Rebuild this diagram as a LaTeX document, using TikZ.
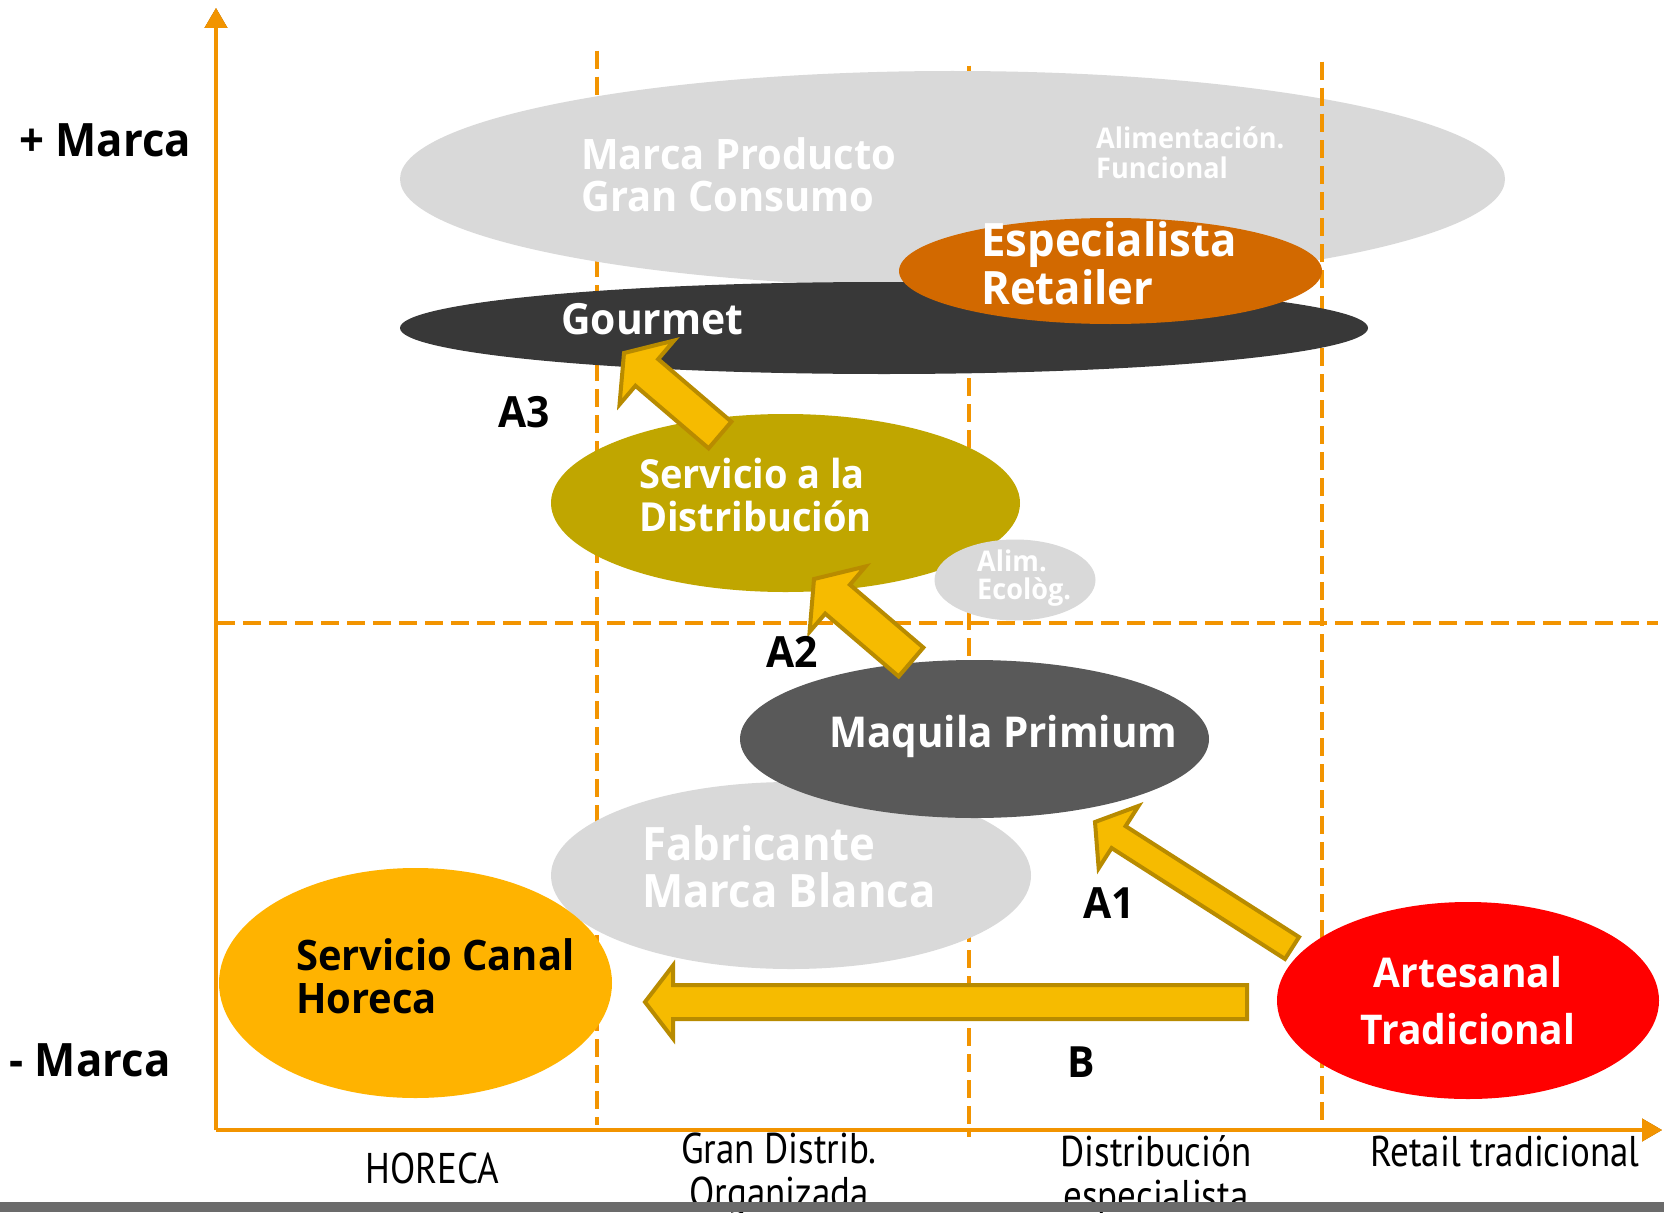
\documentclass[tikz,border=0pt]{standalone}
\usepackage{fontspec}
\setmainfont{Open Sans}[FakeStretch=0.95]
\newfontfamily\axfont{PT Sans}[FakeStretch=0.86]
\usetikzlibrary{shapes.geometric,calc,arrows.meta}

\definecolor{lgray}{HTML}{D9D9D9}
\definecolor{espor}{HTML}{D26900}
\definecolor{gourm}{HTML}{383838}
\definecolor{olive}{HTML}{C0A600}
\definecolor{maqg}{HTML}{595959}
\definecolor{horor}{HTML}{FFB300}
\definecolor{artred}{HTML}{FF0000}
\definecolor{arrfill}{HTML}{F6BB00}
\definecolor{arredge}{HTML}{B88B00}
\definecolor{axor}{HTML}{F29400}
\definecolor{axlight}{HTML}{F9C27F}
\definecolor{axbrown}{HTML}{965700}
\definecolor{barg}{HTML}{6B6B6B}

\newcommand\fsz[2]{\fontsize{#1}{#2}\selectfont}

% block arrow: tail, tip, shaft half width, head half width, head length
\newcommand\blockarrow[5]{%
  \coordinate (ba-h) at ($(#2)!#5!(#1)$);
  \draw[barrow] (#2) -- ($(ba-h)!#4!90:(#2)$) -- ($(ba-h)!#3!90:(#2)$)
    -- ($(#1)!#3!90:(#2)$) -- ($(#1)!#3!-90:(#2)$)
    -- ($(ba-h)!#3!-90:(#2)$) -- ($(ba-h)!#4!-90:(#2)$) -- cycle;}

% three-tone dashed guide line
\newcommand\guideline[2]{%
  \draw[guide, axlight, shift={(-2.5,-2.5)}] (#1) -- (#2);
  \draw[guide, axbrown, shift={(3,3)}] (#1) -- (#2);
  \draw[guide, axor] (#1) -- (#2);}

\tikzset{
  blob/.style={ellipse, draw=none, inner sep=0pt, minimum width=#1},
  barrow/.style={fill=arrfill, draw=arredge, line width=4pt, line join=miter},
  guide/.style={line width=4.5pt, dash pattern=on 18pt off 8pt},
  axline/.style={line width=4pt, -{Triangle[length=20pt,width=22pt]}},
  wtxt/.style={font=\bfseries, text=white, inner sep=0pt, align=left, anchor=base west},
  ktxt/.style={font=\bfseries, text=black, inner sep=0pt, anchor=base},
  axtxt/.style={font=\axfont\fsz{43}{44}, text=black, inner sep=0pt, align=center, anchor=base},
}

\begin{document}
\begin{tikzpicture}[x=1pt,y=-1pt]
\useasboundingbox (0,0) rectangle (1664,1212);
\fill[white] (0,0) rectangle (1664,1212);

% guide lines under the blobs
\coordinate (g1t) at (597,51);   \coordinate (g1b) at (597,1125);
\coordinate (g2t) at (969,66);   \coordinate (g2b) at (969,1137);
\coordinate (g3t) at (1322,62);  \coordinate (g3b) at (1322,1125);
\coordinate (hl) at (217,623);   \coordinate (hr) at (1658,623);
\guideline{g1t}{g1b}
\guideline{g2t}{g2b}
\guideline{hl}{hr}

% axes
\coordinate (orig) at (216,1130);
\coordinate (ytop) at (216,8);
\coordinate (xend) at (1662,1130);
\draw[axline, axlight, line width=2pt, shift={(-2.5,-2.5)}] (orig) -- (ytop);
\draw[axline, axlight, line width=2pt, shift={(-2.5,-2.5)}] (orig) -- (xend);
\draw[axline, axbrown, shift={(2.5,2.5)}] (orig) -- (ytop);
\draw[axline, axbrown, shift={(2.5,2.5)}] (orig) -- (xend);
\draw[axline, axor] (orig) -- (ytop);
\draw[axline, axor] (orig) -- (xend);

% segments
\node[blob=1105pt, minimum height=216pt, fill=lgray] (mp) at (952.5,179) {};
\guideline{g3t}{g3b}
\node[blob=968pt, minimum height=92pt, fill=gourm] (gour) at (884,328) {};
\node[blob=423pt, minimum height=106pt, fill=espor] (esp) at (1110.5,271) {};
\node[blob=469pt, minimum height=178pt, fill=olive] (sdist) at (785.5,503) {};
\node[blob=161pt, minimum height=81pt, fill=lgray] (eco) at (1015,580) {};
\node[blob=480pt, minimum height=187pt, fill=lgray] (fab) at (791,875.5) {};
\node[blob=469pt, minimum height=158pt, fill=maqg] (maq) at (974.5,739) {};
\node[blob=393pt, minimum height=230pt, fill=horor] (hor) at (415.5,983) {};
\node[blob=382pt, minimum height=197pt, fill=artred] (art) at (1468,1000.5) {};

% segment labels (base = baseline of the last line)
\node[wtxt, font=\bfseries\fsz{42}{42}] (tmp) at (581,211) {Marca Producto\\Gran Consumo};
\node[wtxt, font=\bfseries\fsz{28.5}{29}] (tfun) at (1096,178) {Alimentación.\\Funcional};
\node[wtxt, font=\bfseries\fsz{46}{48}] (tesp) at (981,304) {Especialista\\Retailer};
\node[wtxt, font=\bfseries\fsz{43}{43}] (tgour) at (561,334) {Gourmet};
\node[wtxt, font=\bfseries\fsz{40}{43}] (tsdist) at (639,531) {Servicio a la\\Distribución};
\node[wtxt, font=\bfseries\fsz{28.5}{28}] (teco) at (977,599) {Alim.\\Ecològ.};
\node[wtxt, font=\bfseries\fsz{42.5}{43}] (tmaq) at (829,747) {Maquila Primium};
\node[wtxt, font=\bfseries\fsz{46}{47}] (tfab) at (642,907) {Fabricante\\Marca Blanca};
\node[wtxt, text=black, font=\bfseries\fsz{42}{43}] (thor) at (296,1013) {Servicio Canal\\Horeca};
\node[wtxt, align=center, anchor=base, font=\bfseries\fsz{41}{57}] (tart) at (1468,1044.5) {Artesanal\\Tradicional};

% movement arrows
\coordinate (a3tip) at (624,353);  \coordinate (a3tail) at (720,435);
\coordinate (a2tip) at (814,579);  \coordinate (a2tail) at (911,662);
\coordinate (a1tip) at (1095,822); \coordinate (a1tail) at (1292,948);
\coordinate (btip) at (645,1002);  \coordinate (btail) at (1247,1002);
\blockarrow{a3tail}{a3tip}{17.5pt}{42pt}{30pt}
\blockarrow{a2tail}{a2tip}{19pt}{43pt}{31pt}
\blockarrow{a1tail}{a1tip}{13pt}{37pt}{28pt}
\blockarrow{btail}{btip}{17pt}{36.5pt}{28pt}

% arrow labels
\node[ktxt, font=\bfseries\fsz{43}{43}] (la3) at (524,427) {A3};
\node[ktxt, font=\bfseries\fsz{43}{43}] (la2) at (792,667) {A2};
\node[ktxt, font=\bfseries\fsz{43}{43}] (la1) at (1109,918) {A1};
\node[ktxt, font=\bfseries\fsz{43}{43}] (lb) at (1081,1077) {B};

% axis labels
\node[ktxt, font=\bfseries\fsz{46}{46}] (ymax) at (105,157) {+ Marca};
\node[ktxt, font=\bfseries\fsz{46}{46}] (ymin) at (90,1076) {- Marca};
\node[axtxt] (xh) at (432,1183) {HORECA};
\node[axtxt] (xg) at (779,1207) {Gran Distrib.\\Organizada};
\node[axtxt] (xd) at (1156,1210) {Distribución\\especialista};
\node[axtxt] (xr) at (1505,1166) {Retail tradicional};

% footer band
\fill[barg] (0,1202) rectangle (1664,1212);
\end{tikzpicture}
\end{document}
